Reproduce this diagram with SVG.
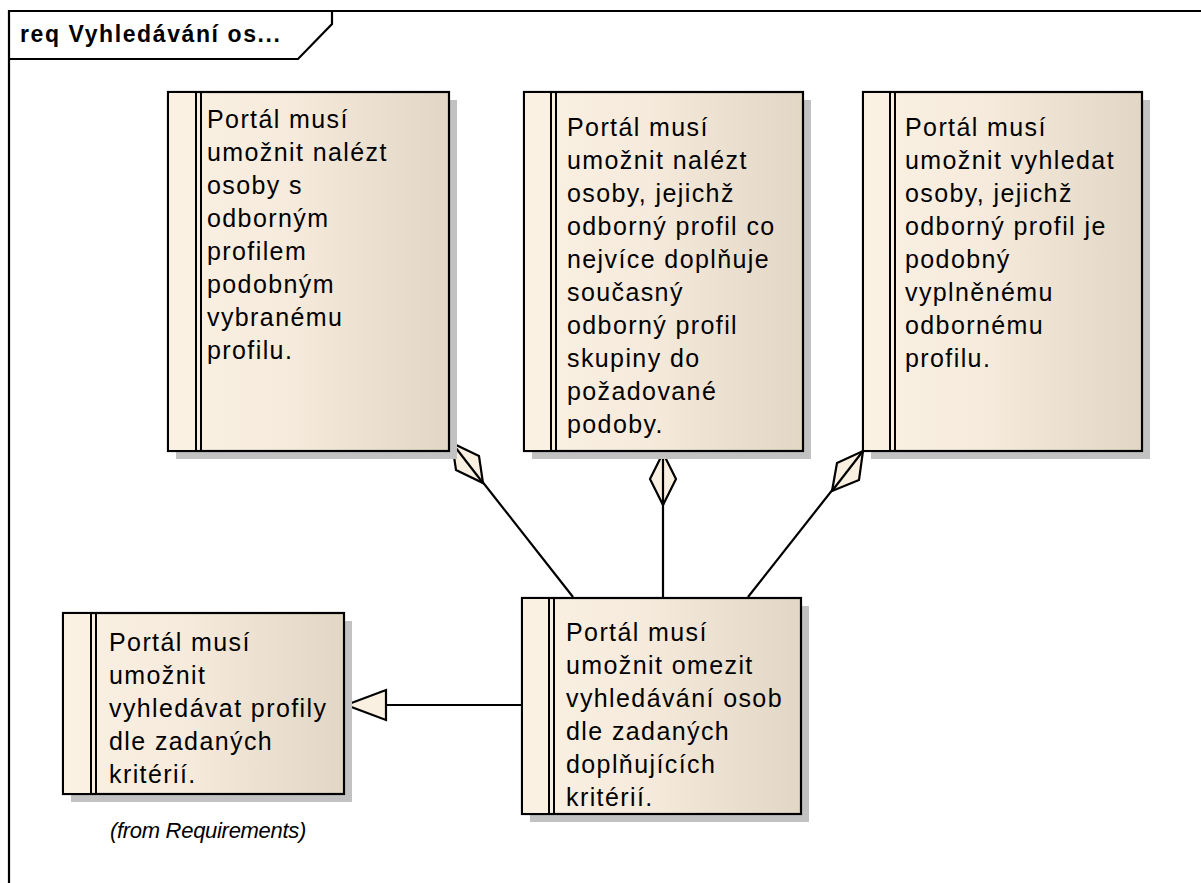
<svg xmlns="http://www.w3.org/2000/svg" width="1201" height="883" viewBox="0 0 1201 883">
  <defs>
    <linearGradient id="reqFill" x1="0" y1="0" x2="1" y2="0">
      <stop offset="0" stop-color="#FBF1E3"/>
      <stop offset="0.45" stop-color="#F5EADB"/>
      <stop offset="1" stop-color="#E2D7C5"/>
    </linearGradient>
    <style>
      .shadow { fill: #C2C2C2; }
      .box { fill: url(#reqFill); stroke: #000; stroke-width: 2.2; }
      .strip { fill: #FBF1E3; stroke: none; }
      .bar { stroke: #000; stroke-width: 2; }
      .txt { font-family: "Liberation Sans", Arial, sans-serif; font-size: 25px; letter-spacing: 1.4px; fill: #000; }
      .title { font-family: "Liberation Sans", Arial, sans-serif; font-size: 23px; font-weight: bold; letter-spacing: 1.6px; fill: #000; }
      .note { font-family: "Liberation Sans", Arial, sans-serif; font-size: 22px; font-style: italic; letter-spacing: -0.3px; fill: #000; }
      .frame { fill: none; stroke: #000; stroke-width: 2.2; }
      .edge { fill: none; stroke: #000; stroke-width: 2.2; }
      .head { fill: #FAF0E2; stroke: #000; stroke-width: 2.2; stroke-linejoin: miter; }
    </style>
  </defs>

  <rect width="1201" height="883" fill="#FFFFFF"/>

  <!-- diagram frame and name tab -->
  <g id="frame">
    <path class="frame" d="M9,883 V11 H1201"/>
    <path class="frame" d="M332,11 V24 L298,59 H9" stroke-width="1.8"/>
    <text class="title" x="20" y="42">req Vyhledávání os...</text>
  </g>

  <!-- connectors -->
  <g id="connectors">
    <!-- aggregation: D is part of A -->
    <line class="edge" x1="573" y1="597" x2="452" y2="443"/>
    <polygon class="head" points="452,443 479,456 483,483 456,470"/>
    <line class="edge" x1="452" y1="443" x2="483" y2="483"/>
    <!-- aggregation: D is part of B -->
    <line class="edge" x1="663" y1="597" x2="663" y2="453"/>
    <polygon class="head" points="663,453 676,479 663,505 650,479"/>
    <line class="edge" x1="663" y1="453" x2="663" y2="505"/>
    <!-- aggregation: D is part of C -->
    <line class="edge" x1="748" y1="597" x2="863" y2="451"/>
    <polygon class="head" points="863,451 859,480 832,491 837,463"/>
    <line class="edge" x1="863" y1="451" x2="832" y2="491"/>
    <!-- generalization D -> E -->
    <line class="edge" x1="521" y1="705" x2="386" y2="705"/>
    <polygon class="head" points="346,705 386,690 386,720"/>
  </g>

  <!-- requirement A -->
  <g id="reqA">
    <rect class="shadow" x="176" y="100" width="281" height="359"/>
    <rect class="box" x="168" y="92" width="281" height="359"/>
    <rect class="strip" x="169.1" y="93.1" width="26" height="356.8"/>
    <line class="bar" x1="196" y1="92" x2="196" y2="451"/>
    <line class="bar" x1="201" y1="92" x2="201" y2="451"/>
    <text class="txt" x="207" y="128">
      <tspan x="207">Portál musí</tspan>
      <tspan x="207" dy="33">umožnit nalézt</tspan>
      <tspan x="207" dy="33">osoby s</tspan>
      <tspan x="207" dy="33">odborným</tspan>
      <tspan x="207" dy="33">profilem</tspan>
      <tspan x="207" dy="33">podobným</tspan>
      <tspan x="207" dy="33">vybranému</tspan>
      <tspan x="207" dy="33">profilu.</tspan>
    </text>
  </g>

  <!-- requirement B -->
  <g id="reqB">
    <rect class="shadow" x="532" y="100" width="279" height="359"/>
    <rect class="box" x="524" y="92" width="279" height="359"/>
    <rect class="strip" x="525.1" y="93.1" width="25" height="356.8"/>
    <line class="bar" x1="551" y1="92" x2="551" y2="451"/>
    <line class="bar" x1="556" y1="92" x2="556" y2="451"/>
    <text class="txt" x="567" y="136">
      <tspan x="567">Portál musí</tspan>
      <tspan x="567" dy="33">umožnit nalézt</tspan>
      <tspan x="567" dy="33">osoby, jejichž</tspan>
      <tspan x="567" dy="33">odborný profil co</tspan>
      <tspan x="567" dy="33">nejvíce doplňuje</tspan>
      <tspan x="567" dy="33">současný</tspan>
      <tspan x="567" dy="33">odborný profil</tspan>
      <tspan x="567" dy="33">skupiny do</tspan>
      <tspan x="567" dy="33">požadované</tspan>
      <tspan x="567" dy="33">podoby.</tspan>
    </text>
  </g>

  <!-- requirement C -->
  <g id="reqC">
    <rect class="shadow" x="871" y="100" width="279" height="359"/>
    <rect class="box" x="863" y="92" width="279" height="359"/>
    <rect class="strip" x="864.1" y="93.1" width="25" height="356.8"/>
    <line class="bar" x1="890" y1="92" x2="890" y2="451"/>
    <line class="bar" x1="895" y1="92" x2="895" y2="451"/>
    <text class="txt" x="905" y="136">
      <tspan x="905">Portál musí</tspan>
      <tspan x="905" dy="33">umožnit vyhledat</tspan>
      <tspan x="905" dy="33">osoby, jejichž</tspan>
      <tspan x="905" dy="33">odborný profil je</tspan>
      <tspan x="905" dy="33">podobný</tspan>
      <tspan x="905" dy="33">vyplněnému</tspan>
      <tspan x="905" dy="33">odbornému</tspan>
      <tspan x="905" dy="33">profilu.</tspan>
    </text>
  </g>

  <!-- requirement D -->
  <g id="reqD">
    <rect class="shadow" x="530" y="606" width="279" height="216"/>
    <rect class="box" x="522" y="598" width="279" height="216"/>
    <rect class="strip" x="523.1" y="599.1" width="25" height="213.8"/>
    <line class="bar" x1="549" y1="598" x2="549" y2="814"/>
    <line class="bar" x1="554" y1="598" x2="554" y2="814"/>
    <text class="txt" x="566" y="641">
      <tspan x="566">Portál musí</tspan>
      <tspan x="566" dy="33">umožnit omezit</tspan>
      <tspan x="566" dy="33">vyhledávání osob</tspan>
      <tspan x="566" dy="33">dle zadaných</tspan>
      <tspan x="566" dy="33">doplňujících</tspan>
      <tspan x="566" dy="33">kritérií.</tspan>
    </text>
  </g>

  <!-- requirement E -->
  <g id="reqE">
    <rect class="shadow" x="71" y="621" width="281" height="181"/>
    <rect class="box" x="63" y="613" width="281" height="181"/>
    <rect class="strip" x="64.1" y="614.1" width="26" height="178.8"/>
    <line class="bar" x1="91" y1="613" x2="91" y2="794"/>
    <line class="bar" x1="96" y1="613" x2="96" y2="794"/>
    <text class="txt" x="109" y="651">
      <tspan x="109">Portál musí</tspan>
      <tspan x="109" dy="33">umožnit</tspan>
      <tspan x="109" dy="33">vyhledávat profily</tspan>
      <tspan x="109" dy="33">dle zadaných</tspan>
      <tspan x="109" dy="33">kritérií.</tspan>
    </text>
    <text class="note" x="208" y="838" text-anchor="middle">(from Requirements)</text>
  </g>
</svg>
